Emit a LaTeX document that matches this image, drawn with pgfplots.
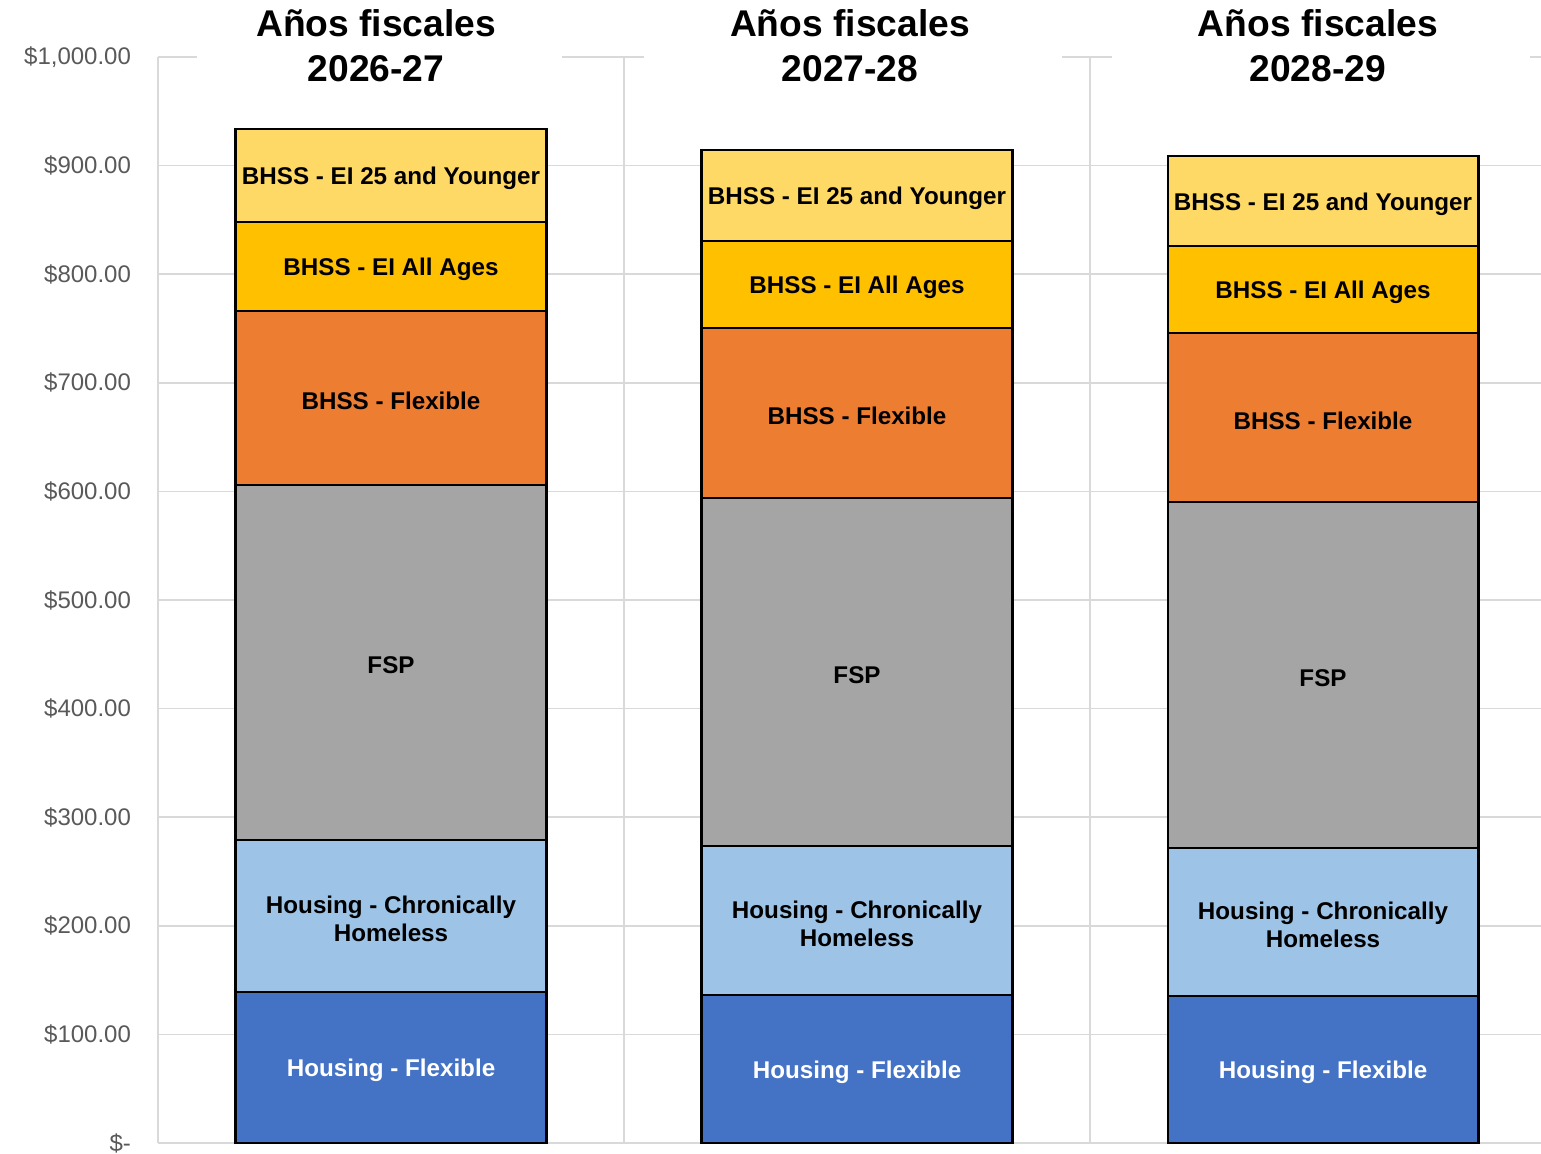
\documentclass[border=0pt]{standalone}
\usepackage{fontspec}
\setmainfont{Liberation Sans}
\usepackage{pgfplots}
\usepackage{pgfplotstable}
\pgfplotsset{compat=1.18}

\definecolor{cHF}{HTML}{4472C4}
\definecolor{cHC}{HTML}{9DC3E6}
\definecolor{cFSP}{HTML}{A5A5A5}
\definecolor{cBF}{HTML}{ED7D31}
\definecolor{cEIA}{HTML}{FFC000}
\definecolor{cEI}{HTML}{FFD966}
\definecolor{gridgray}{HTML}{D9D9D9}
\definecolor{ticktext}{HTML}{595959}

% Funding by program (millions of dollars), one row per fiscal year
\pgfplotstableread{
yr  hf     hc     fsp    bf     eia   ei
0   139.0  140.0  326.9  160.2  82.0  85.6
1   136.3  137.2  320.4  156.6  80.1  83.8
2   135.4  136.2  318.6  155.7  80.1  82.8
}\budget

% shared frame of both axes
\pgfplotsset{
  frame/.style={
    at={(0,0)}, anchor=south west,
    scale only axis, width=691.5pt, height=543pt,
    xmin=-0.5, xmax=2.4678, ymin=0, ymax=1000,
    clip=false,
  },
}

\begin{document}
\begin{tikzpicture}[
  seglbl/.style={font=\fontsize{12.1}{14}\selectfont\bfseries, align=center, text=black, yshift=-1.5pt},
  ttl/.style={font=\fontsize{18.6}{22}\selectfont\bfseries, text=black, inner sep=0pt},
]
% stacked bars
\begin{axis}[
  frame,
  ybar stacked, bar width=0.667,
  xtick={-0.5,0.5,1.5,2.5}, xticklabels={},
  ytick={0,100,...,1000},
  yticklabels={\$-\hspace{6.5pt},\$100.00,\$200.00,\$300.00,\$400.00,\$500.00,\$600.00,\$700.00,\$800.00,\$900.00,{\$1,000.00}},
  yticklabel style={font=\fontsize{12}{14}\selectfont, text=ticktext, anchor=east, xshift=-10pt},
  grid=major, grid style={draw=gridgray, line width=0.8pt},
  axis line style={draw=none},
  major tick length=0pt,
  every axis plot/.append style={draw=black, line width=1.1pt},
]
\addplot[fill=cHF]  table[x=yr, y=hf]  {\budget};
\addplot[fill=cHC]  table[x=yr, y=hc]  {\budget};
\addplot[fill=cFSP] table[x=yr, y=fsp] {\budget};
\addplot[fill=cBF]  table[x=yr, y=bf]  {\budget};
\addplot[fill=cEIA] table[x=yr, y=eia] {\budget};
\addplot[fill=cEI]  table[x=yr, y=ei]  {\budget};
% white panels behind the fiscal-year headers
\fill[white] (axis cs:-0.4163,985) rectangle (axis cs:0.3670,1015);
\fill[white] (axis cs:0.5429,985) rectangle (axis cs:1.4399,1015);
\fill[white] (axis cs:1.5472,985) rectangle (axis cs:2.4442,1015);
\end{axis}

% text layer: segment labels and headers
\begin{axis}[frame, hide axis]
\pgfplotsinvokeforeach{0,1,2}{%
  \pgfplotstablegetelem{#1}{hf}\of\budget\let\vA\pgfplotsretval
  \pgfplotstablegetelem{#1}{hc}\of\budget\let\vB\pgfplotsretval
  \pgfplotstablegetelem{#1}{fsp}\of\budget\let\vC\pgfplotsretval
  \pgfplotstablegetelem{#1}{bf}\of\budget\let\vD\pgfplotsretval
  \pgfplotstablegetelem{#1}{eia}\of\budget\let\vE\pgfplotsretval
  \pgfplotstablegetelem{#1}{ei}\of\budget\let\vF\pgfplotsretval
  \pgfmathsetmacro\mA{\vA/2}
  \pgfmathsetmacro\mB{\vA+\vB/2}
  \pgfmathsetmacro\mC{\vA+\vB+\vC/2}
  \pgfmathsetmacro\mD{\vA+\vB+\vC+\vD/2}
  \pgfmathsetmacro\mE{\vA+\vB+\vC+\vD+\vE/2}
  \pgfmathsetmacro\mF{\vA+\vB+\vC+\vD+\vE+\vF/2}
  \edef\seglabels{%
    \noexpand\node[seglbl, text=white] at (axis cs:#1,\mA) {Housing - Flexible};
    \noexpand\node[seglbl] at (axis cs:#1,\mB) {Housing - Chronically\noexpand\\Homeless};
    \noexpand\node[seglbl] at (axis cs:#1,\mC) {FSP};
    \noexpand\node[seglbl] at (axis cs:#1,\mD) {BHSS - Flexible};
    \noexpand\node[seglbl] at (axis cs:#1,\mE) {BHSS - EI All Ages};
    \noexpand\node[seglbl] at (axis cs:#1,\mF) {BHSS - EI 25 and Younger};
  }\seglabels
}
\node[ttl, anchor=base] at (axis cs:-0.032,1018.9) {Años fiscales};
\node[ttl, anchor=base] at (axis cs:-0.032,977.4) {2026-27};
\node[ttl, anchor=base] at (axis cs:0.985,1018.9) {Años fiscales};
\node[ttl, anchor=base] at (axis cs:0.985,977.4) {2027-28};
\node[ttl, anchor=base] at (axis cs:1.989,1018.9) {Años fiscales};
\node[ttl, anchor=base] at (axis cs:1.989,977.4) {2028-29};
\end{axis}
\pgfresetboundingbox
\path[use as bounding box] (-79pt,-5.5pt) rectangle (691.5pt,571.5pt);
\end{tikzpicture}
\end{document}
